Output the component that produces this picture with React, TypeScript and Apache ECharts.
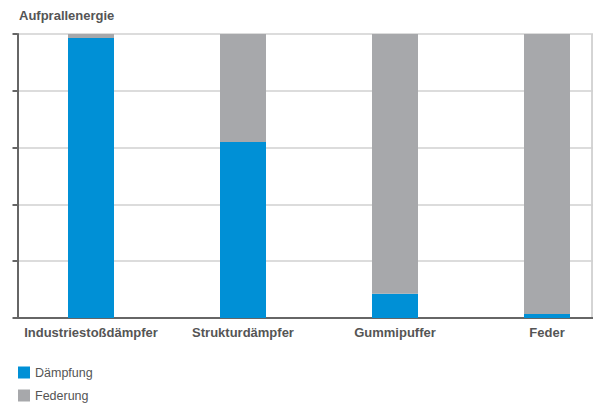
import React, { useEffect, useRef } from "react";
import * as echarts from "echarts";

const categories = ["Industriestoßdämpfer", "Strukturdämpfer", "Gummipuffer", "Feder"];
const daempfung = [98.6, 62, 8.5, 1.4];
const federung = [1.4, 38, 91.5, 98.6];
const seriesNames = ["Dämpfung", "Federung"];
const title = "Aufprallenergie";

export default function App() {
  const ref = useRef<HTMLDivElement>(null);
  useEffect(() => {
    if (!ref.current) return;
    const chart = echarts.init(ref.current, null, { renderer: "svg" });
    const font = "'Liberation Sans', Arial, sans-serif";
    chart.setOption({
      animation: false,
      textStyle: { fontFamily: font },
      title: {
        text: title,
        left: 19,
        top: 9,
        padding: 0,
        textStyle: { fontSize: 13, fontWeight: "bold", color: "#555", fontFamily: font },
      },
      legend: {
        orient: "vertical",
        left: 18,
        top: 366,
        padding: 0,
        itemWidth: 12,
        itemHeight: 12,
        itemGap: 10,
        icon: "rect",
        textStyle: { fontSize: 12.5, color: "#555", fontFamily: font },
        data: seriesNames,
      },
      grid: { left: 15, top: 34, height: 284, width: 608, containLabel: false },
      xAxis: {
        type: "category",
        data: categories,
        axisLine: { show: true, lineStyle: { color: "#666", width: 2 } },
        axisTick: { show: false },
        axisLabel: {
          interval: 0,
          fontSize: 13,
          fontWeight: "bold",
          color: "#555",
          margin: 8,
          fontFamily: font,
        },
      },
      yAxis: {
        type: "value",
        min: 0,
        max: 100,
        interval: 20,
        offset: -2.5,
        axisLine: { show: true, lineStyle: { color: "#666", width: 2 } },
        axisTick: { show: true, length: 5, lineStyle: { color: "#666", width: 2 } },
        axisLabel: { show: false },
        splitLine: { show: true, lineStyle: { color: "#d0d0d0", width: 1.5 } },
      },
      series: [
        {
          name: seriesNames[0],
          type: "bar",
          stack: "total",
          barWidth: 46,
          itemStyle: { color: "#0090d6" },
          data: daempfung,
        },
        {
          name: seriesNames[1],
          type: "bar",
          stack: "total",
          barWidth: 46,
          itemStyle: { color: "#a7a8ab" },
          data: federung,
        },
      ],
      graphic: [
        {
          type: "line",
          shape: { x1: 592, y1: 34, x2: 592, y2: 318 },
          style: { stroke: "#aaa", lineWidth: 1 },
        },
      ],
    });
    return () => chart.dispose();
  }, []);
  return (
    <div
      style={{
        position: "absolute",
        left: 0,
        top: 0,
        width: 593,
        height: 403,
        overflow: "hidden",
        background: "#fff",
      }}
    >
      <div ref={ref} style={{ width: 640, height: 403 }} />
    </div>
  );
}
